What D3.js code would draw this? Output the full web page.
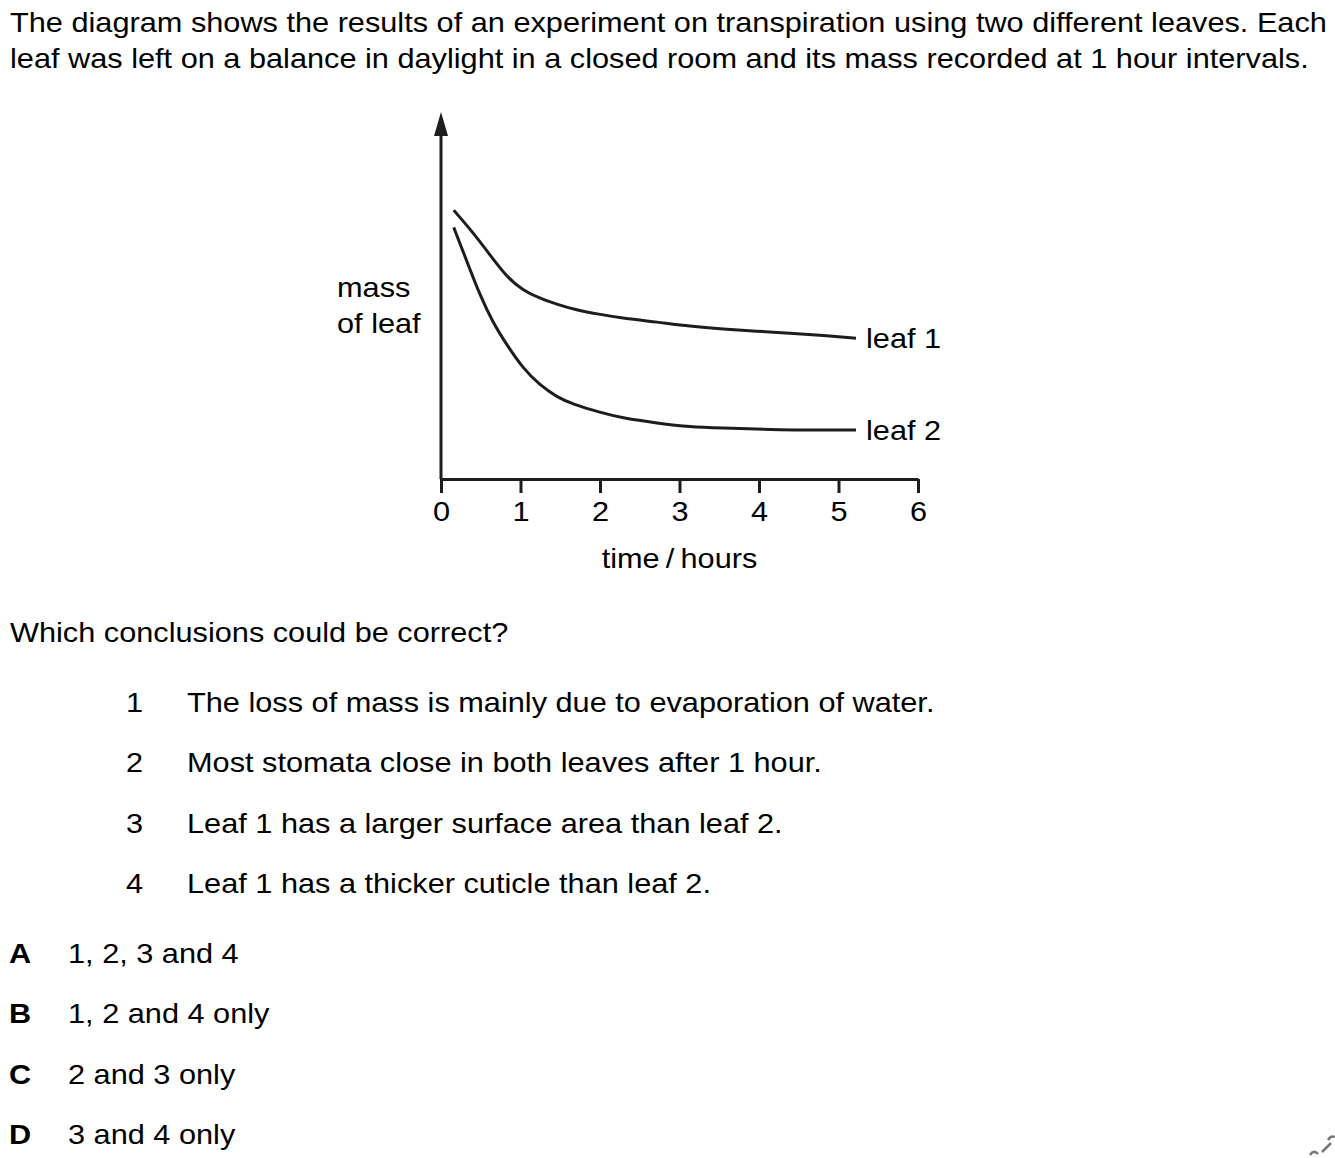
<!DOCTYPE html>
<html>
<head>
<meta charset="utf-8">
<script src="https://cdn.jsdelivr.net/npm/d3@7"></script>
<style>
  html, body { margin: 0; padding: 0; background: #fff; }
  svg { display: block; }
  text { font-family: "Liberation Sans", Arial, sans-serif; fill: #000; }
</style>
</head>
<body>
<script>
// ---- data ----
const timeTicks = [0, 1, 2, 3, 4, 5, 6];
const leaf1Time = [0.16, 0.40, 0.62, 0.83, 1.03, 1.24, 1.46, 1.66, 1.99, 2.29, 2.72, 3.13, 3.55, 3.97, 4.39, 4.81, 5.22];
const leaf1Mass = [7.69, 7.06, 6.40, 5.77, 5.40, 5.17, 5.00, 4.86, 4.71, 4.60, 4.49, 4.37, 4.29, 4.23, 4.17, 4.11, 4.03];
const leaf2Time = [0.16, 0.33, 0.49, 0.65, 0.83, 1.03, 1.24, 1.46, 1.66, 1.99, 2.29, 2.72, 3.13, 3.55, 3.97, 4.39, 5.22];
const leaf2Mass = [7.20, 6.20, 5.26, 4.49, 3.83, 3.17, 2.69, 2.34, 2.14, 1.91, 1.74, 1.60, 1.49, 1.46, 1.43, 1.40, 1.40];
const seriesNames = ["leaf 1", "leaf 2"];
const titleLines = [
  "The diagram shows the results of an experiment on transpiration using two different leaves. Each",
  "leaf was left on a balance in daylight in a closed room and its mass recorded at 1 hour intervals."
];
const yLabelLines = ["mass", "of leaf"];
const xLabel = "time\u2009/\u2009hours";
const question = "Which conclusions could be correct?";
const statementNums = ["1", "2", "3", "4"];
const statements = [
  "The loss of mass is mainly due to evaporation of water.",
  "Most stomata close in both leaves after 1 hour.",
  "Leaf 1 has a larger surface area than leaf 2.",
  "Leaf 1 has a thicker cuticle than leaf 2."
];
const optionLetters = ["A", "B", "C", "D"];
const optionTexts = ["1, 2, 3 and 4", "1, 2 and 4 only", "2 and 3 only", "3 and 4 only"];

// ---- layout ----
const W = 1335, H = 1158;
const FS = 28;
const SX = 1.097;
const ink = "#1d1d1b";
const svg = d3.select("body").append("svg").attr("width", W).attr("height", H);

function put(sel, fx, fy) {
  return sel.attr("transform", (d, i) => `translate(${fx(d, i)},${fy(d, i)}) scale(${SX},1)`)
    .attr("font-size", FS);
}

put(svg.selectAll("text.title").data(titleLines).join("text").attr("class", "title"),
  () => 10, (d, i) => 32 + i * 36).text(d => d);

const x = d3.scaleLinear().domain([0, 6]).range([441, 918]);
const y = d3.scaleLinear().domain([0, 10.5]).range([479, 112]);

// y axis with arrow
svg.append("line")
  .attr("x1", x(0)).attr("x2", x(0)).attr("y1", y(0)).attr("y2", y(10.5) + 20)
  .attr("stroke", ink).attr("stroke-width", 3);
svg.append("path")
  .attr("d", `M${x(0)},${y(10.5)} L${x(0) + 7},${y(10.5) + 24} L${x(0) - 7},${y(10.5) + 24} Z`)
  .attr("fill", ink);

// x axis
const xAxis = svg.append("g").attr("transform", `translate(0,${y(0)})`)
  .call(d3.axisBottom(x).tickValues(timeTicks).tickSize(14).tickSizeOuter(0).tickPadding(8).tickFormat(d3.format("d")));
xAxis.select(".domain").attr("stroke", ink).attr("stroke-width", 3);
xAxis.selectAll(".tick line").attr("stroke", ink).attr("stroke-width", 3);
xAxis.selectAll(".tick text").attr("font-size", FS).attr("font-family", "Liberation Sans, Arial, sans-serif")
  .attr("fill", "#000").attr("transform", `scale(${SX},1)`);

put(svg.append("text").datum(xLabel).attr("text-anchor", "middle"), () => x(3), () => 568).text(d => d);

put(svg.selectAll("text.ylab").data(yLabelLines).join("text").attr("class", "ylab"),
  () => 337, (d, i) => 297 + i * 36).text(d => d);

// curves
const line = d3.line().x(d => x(d[0])).y(d => y(d[1])).curve(d3.curveBasis);
const series = [d3.zip(leaf1Time, leaf1Mass), d3.zip(leaf2Time, leaf2Mass)];
svg.selectAll("path.curve").data(series).join("path")
  .attr("class", "curve").attr("d", line)
  .attr("fill", "none").attr("stroke", ink).attr("stroke-width", 3);

put(svg.selectAll("text.slab").data(series).join("text").attr("class", "slab"),
  d => x(d[d.length - 1][0]) + 10, d => y(d[d.length - 1][1]) + 10)
  .text((d, i) => seriesNames[i]);

// question
put(svg.append("text").datum(question), () => 10, () => 642).text(d => d);

put(svg.selectAll("text.snum").data(statementNums).join("text").attr("class", "snum"),
  () => 126, (d, i) => 712 + i * 60.3).text(d => d);
put(svg.selectAll("text.stxt").data(statements).join("text").attr("class", "stxt"),
  () => 187, (d, i) => 712 + i * 60.3).text(d => d);

put(svg.selectAll("text.olet").data(optionLetters).join("text").attr("class", "olet"),
  () => 9, (d, i) => 963 + i * 60.3).attr("font-weight", "bold").text(d => d);
put(svg.selectAll("text.otxt").data(optionTexts).join("text").attr("class", "otxt"),
  () => 68, (d, i) => 963 + i * 60.3).text(d => d);

// small corner mark
svg.append("path").attr("d", "M1310,1155 q4,-6 8,-1 M1322,1152 l9,-9 M1328,1140 q3,-5 7,-3")
  .attr("fill", "none").attr("stroke", "#777").attr("stroke-width", 2.5);
</script>
</body>
</html>
